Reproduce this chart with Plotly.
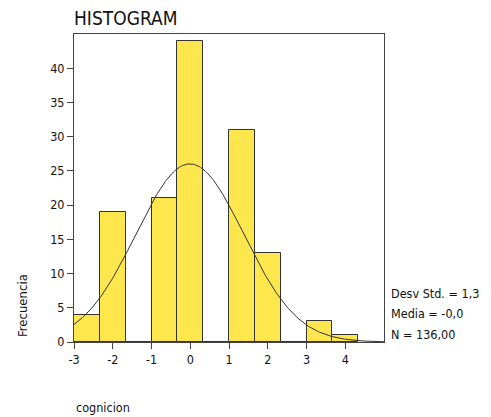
import numpy as np
import plotly.graph_objects as go

# Data
bin_start = -3.0
bin_width = 2.0 / 3.0
counts = [4, 19, 0, 21, 44, 0, 31, 13, 0, 3, 1]
mean_val = -0.01
std_val = 1.39
n_total = 136
stats_lines = ["Desv Std. = 1,3", "Media = -0,0", "N = 136,00"]
x_ticks = [-3, -2, -1, 0, 1, 2, 3, 4]
x_tick_labels = ["-3", "-2", "-1", "0", "1", "2", "3", "4"]
y_ticks = [0, 5, 10, 15, 20, 25, 30, 35, 40]

centers = [bin_start + bin_width * (i + 0.5) for i in range(len(counts))]

FONT = "DejaVu Sans Condensed, DejaVu Sans, sans-serif"

fig = go.Figure()
fig.add_trace(go.Bar(
    x=centers, y=counts, width=bin_width,
    marker=dict(color="#FDE74C", line=dict(color="#333333", width=1)),
    showlegend=False, hoverinfo="skip",
))

# fitted normal curve
xc = np.linspace(-3, 5, 300)
yc = n_total * bin_width / (std_val * np.sqrt(2 * np.pi)) * np.exp(-0.5 * ((xc - mean_val) / std_val) ** 2)
fig.add_trace(go.Scatter(x=xc, y=yc, mode="lines",
                         line=dict(color="#333333", width=1),
                         showlegend=False, hoverinfo="skip"))

fig.update_layout(
    width=491, height=417,
    margin=dict(l=74, r=107, t=34, b=75),
    paper_bgcolor="white", plot_bgcolor="white",
    font=dict(family=FONT, size=12.5, color="#111111"),
    bargap=0,
    title=dict(text="HISTOGRAM", x=0, xanchor="left", xref="paper",
               y=1 - 18 / 417, yanchor="middle",
               font=dict(family=FONT, size=19, color="#111111")),
    xaxis=dict(range=[-3, 5], tickvals=x_ticks, ticktext=x_tick_labels,
               showgrid=False, zeroline=False,
               showline=True, linecolor="#444444", linewidth=1, mirror=True,
               ticks="outside", ticklen=6, tickcolor="#444444",
               tickfont=dict(size=12.5)),
    yaxis=dict(range=[0, 45], tickvals=y_ticks, showgrid=False, zeroline=False,
               showline=True, linecolor="#444444", linewidth=1, mirror=True,
               ticks="outside", ticklen=6, tickcolor="#444444",
               tickfont=dict(size=12.5)),
)

fig.add_annotation(text="Frecuencia", xref="paper", yref="paper",
                   x=-52 / 310, y=(342 - 305) / 308, textangle=-90,
                   showarrow=False, font=dict(size=13), xanchor="center", yanchor="middle")
fig.add_annotation(text="cognicion", xref="paper", yref="paper",
                   x=0, y=-(408 - 342) / 308, showarrow=False,
                   font=dict(size=12.5), xanchor="left", yanchor="middle")
for i, line in enumerate(stats_lines):
    fig.add_annotation(text=line, xref="paper", yref="paper",
                       x=1 + 5 / 310, y=(342 - (293 + 20.5 * i)) / 308,
                       showarrow=False, font=dict(size=12.5),
                       xanchor="left", yanchor="middle")

fig.write_html("out.html", config={"displayModeBar": False},
               post_script="document.body.style.margin='0';document.body.style.padding='0';")
